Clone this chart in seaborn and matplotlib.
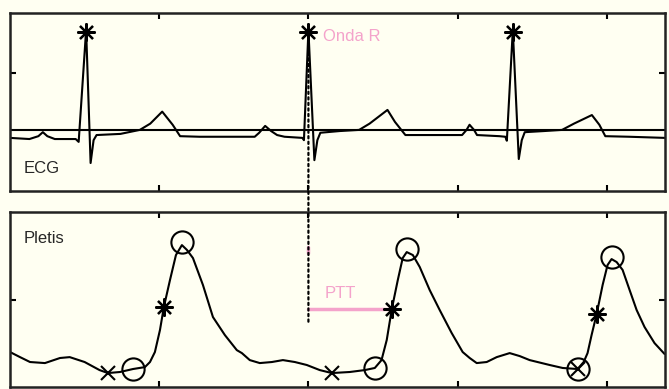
import matplotlib
matplotlib.use("Agg")
import matplotlib.pyplot as plt
import pandas as pd
import seaborn as sns
from matplotlib.patches import ConnectionPatch

# ---- data (time in s, amplitudes in arbitrary units) ----
ecg_t = [0.00, 0.13, 0.19, 0.22, 0.25, 0.30, 0.44, 0.46, 0.51, 0.54, 0.56, 0.58,
         0.74, 0.87, 0.94, 1.02, 1.09, 1.14, 1.27, 1.64, 1.67, 1.71, 1.75, 1.79,
         1.84, 1.96, 1.97, 2.00, 2.04, 2.06, 2.08, 2.21, 2.34, 2.41, 2.53, 2.58,
         2.65, 2.88, 3.03, 3.06, 3.08, 3.11, 3.13, 3.28, 3.32, 3.33, 3.37, 3.41,
         3.43, 3.45, 3.58, 3.70, 3.78, 3.90, 3.95, 3.99, 4.15, 4.39]
ecg_v = [-0.14, -0.16, -0.11, -0.04, -0.11, -0.16, -0.16, -0.21, 1.75, -0.58, -0.18, -0.09,
         -0.07, 0.00, 0.11, 0.32, 0.09, -0.11, -0.12, -0.12, -0.05, 0.07, -0.02, -0.09,
         -0.12, -0.14, -0.18, 1.75, -0.53, -0.18, -0.05, -0.02, 0.00, 0.11, 0.35, 0.14,
         -0.09, -0.09, -0.09, 0.00, 0.09, 0.00, -0.09, -0.11, -0.12, -0.19, 1.75, -0.51,
         -0.18, -0.04, -0.02, 0.00, 0.11, 0.26, 0.09, -0.11, -0.12, -0.14]
r_peak_t = [0.51, 2.00, 3.37]
r_peak_v = [1.72, 1.72, 1.72]

pleth_t = [0.000, 0.067, 0.134, 0.234, 0.335, 0.400, 0.500, 0.600, 0.656, 0.737,
           0.824, 0.904, 0.938, 0.971, 1.005, 1.031, 1.072, 1.112, 1.152, 1.186,
           1.226, 1.293, 1.360, 1.440, 1.520, 1.554, 1.607, 1.674, 1.755, 1.829,
           1.909, 1.989, 2.076, 2.157, 2.277, 2.378, 2.445, 2.490, 2.525, 2.559,
           2.599, 2.632, 2.659, 2.700, 2.746, 2.813, 2.880, 2.960, 3.034, 3.081,
           3.128, 3.195, 3.262, 3.349, 3.416, 3.483, 3.617, 3.704, 3.804, 3.845,
           3.871, 3.898, 3.932, 3.972, 4.005, 4.032, 4.066, 4.106, 4.153, 4.200,
           4.253, 4.320, 4.387]
pleth_v = [0.200, 0.171, 0.143, 0.137, 0.166, 0.171, 0.143, 0.097, 0.080, 0.086,
           0.103, 0.114, 0.143, 0.200, 0.326, 0.457, 0.611, 0.754, 0.811, 0.783,
           0.737, 0.583, 0.400, 0.297, 0.211, 0.194, 0.154, 0.137, 0.143, 0.154,
           0.143, 0.126, 0.097, 0.080, 0.086, 0.097, 0.109, 0.154, 0.269, 0.446,
           0.611, 0.737, 0.771, 0.754, 0.686, 0.554, 0.440, 0.309, 0.200, 0.166,
           0.137, 0.143, 0.171, 0.194, 0.177, 0.154, 0.126, 0.109, 0.103, 0.143,
           0.194, 0.297, 0.417, 0.583, 0.697, 0.731, 0.714, 0.669, 0.554, 0.440,
           0.343, 0.251, 0.189]

foot_x_t = [0.656, 2.157]               # minimum before upstroke (x marks)
foot_x_v = [0.080, 0.080]
circle_t = [0.824, 1.152, 2.445, 2.659, 3.804, 4.032]   # feet and peaks (circles)
circle_v = [0.103, 0.829, 0.109, 0.789, 0.103, 0.743]
cross_circle_t = [3.804]
cross_circle_v = [0.103]
mid_t = [1.031, 2.559, 3.932]           # mid-upstroke points (asterisks)
mid_v = [0.457, 0.446, 0.417]

ptt_start_t = 2.00
ptt_end_t = 2.559
ptt_level = 0.446
dotted_end = 0.37

# ---- style ----
cream = "#FFFFF2"
pink = "#F4A3CB"
sns.set_theme(style="ticks", rc={"axes.facecolor": cream, "figure.facecolor": cream})
plt.rcParams["font.family"] = ["Liberation Sans", "DejaVu Sans"]

fig = plt.figure(figsize=(6.69, 3.89), dpi=100)
ax1 = fig.add_axes([0.015, 0.509, 0.979, 0.458])
ax2 = fig.add_axes([0.015, 0.005, 0.979, 0.450])

asterisk = (8, 2, 0)

# ECG
ecg = pd.DataFrame({"t": ecg_t, "v": ecg_v})
ax1.axhline(0, color="black", lw=1.5, zorder=1)
sns.lineplot(data=ecg, x="t", y="v", ax=ax1, color="black", lw=1.5,
             sort=False, estimator=None, zorder=2)
ax1.plot(r_peak_t, r_peak_v, ls="none", marker=asterisk, ms=13, mec="black", mew=1.6)
ax1.set_xlim(0, 4.39)
ax1.set_ylim(-1.07, 2.05)
ax1.set_yticks([1])
ax1.text(0.02, 0.124, "ECG", transform=ax1.transAxes, fontsize=12, va="center", ha="left")
ax1.text(2.10, 1.63, "Onda R", color=pink, fontsize=12, va="center", ha="left")

# Pleth
pleth = pd.DataFrame({"t": pleth_t, "v": pleth_v})
sns.lineplot(data=pleth, x="t", y="v", ax=ax2, color="black", lw=1.5,
             sort=False, estimator=None, zorder=2)
ax2.plot(foot_x_t, foot_x_v, ls="none", marker="x", ms=10, mec="black", mew=1.5)
ax2.plot(circle_t, circle_v, ls="none", marker="o", ms=16, mfc="none", mec="black", mew=1.5)
ax2.plot(cross_circle_t, cross_circle_v, ls="none", marker="x", ms=10, mec="black", mew=1.5)
ax2.plot(mid_t, mid_v, ls="none", marker=asterisk, ms=13, mec="black", mew=1.6, zorder=4)
ax2.plot([ptt_start_t, ptt_end_t], [ptt_level, ptt_level], color=pink, lw=2.5, zorder=3)
ax2.plot([ptt_start_t, ptt_start_t], [0.765, 0.80], color=pink, lw=2.5, zorder=3)
ax2.set_xlim(0, 4.39)
ax2.set_ylim(0, 1)
ax2.set_yticks([0.5])
ax2.text(0.02, 0.846, "Pletis", transform=ax2.transAxes, fontsize=12, va="center", ha="left")
ax2.text(2.11, 0.537, "PTT", color=pink, fontsize=12, va="center", ha="left")

# dotted line from R wave down into the pleth panel
con = ConnectionPatch(xyA=(ptt_start_t, 1.35), coordsA=ax1.transData,
                      xyB=(ptt_start_t, dotted_end), coordsB=ax2.transData,
                      color="black", lw=1.6, ls=(0, (1, 1.5)), zorder=5)
fig.add_artist(con)

for ax in (ax1, ax2):
    ax.set_xticks([1, 2, 3, 4])
    ax.set_xticklabels([])
    ax.set_yticklabels([])
    ax.set_xlabel("")
    ax.set_ylabel("")
    ax.tick_params(direction="in", length=4, width=1.5, top=True, right=True,
                   color="black")
    for s in ax.spines.values():
        s.set_visible(True)
        s.set_linewidth(1.8)
        s.set_color("#222222")

fig.savefig("out.png", dpi=100, facecolor=cream)
